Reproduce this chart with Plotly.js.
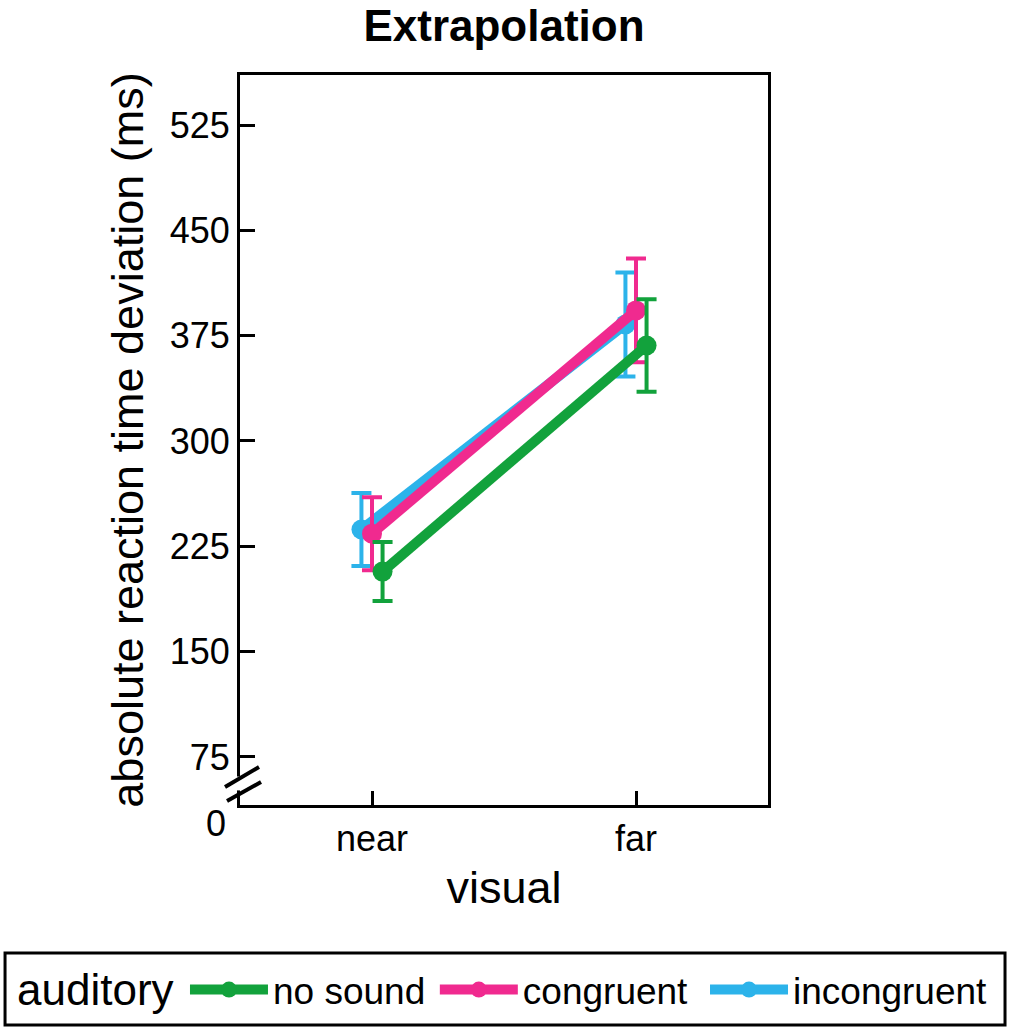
<!DOCTYPE html>
<html>
<head>
<meta charset="utf-8">
<script src="https://cdn.plot.ly/plotly-3.0.1.min.js"></script>
<style>
  html, body { margin: 0; padding: 0; background: #fff; }
  #chart { width: 1010px; height: 1030px; }
</style>
</head>
<body>
<div id="chart"></div>
<script>
var categories = ['near', 'far'];

var noSound = [207, 368];
var noSoundErr = [21, 33];
var congruent = [234, 393];
var congruentErr = [26, 37];
var incongruent = [237, 383];
var incongruentErr = [26, 37];

var yTicks = [75, 150, 225, 300, 375, 450, 525];

var font = 'Liberation Sans, Arial, sans-serif';
var dodge = 0.04;

function makeTrace(name, values, errs, color, shift, legend) {
    return {
        x: categories.map(function (c, i) { return i + 1 + shift * dodge; }),
        y: values,
        name: name,
        type: 'scatter',
        mode: 'lines+markers',
        legend: legend,
        line: { color: color, width: 10 },
        marker: { color: color, size: 20 },
        error_y: {
            type: 'data',
            array: errs,
            visible: true,
            color: color,
            thickness: 4,
            width: 10
        }
    };
}

// draw order: blue under pink under green
var data = [
    makeTrace('incongruent', incongruent, incongruentErr, '#2CB3EA', -1, 'legend3'),
    makeTrace('congruent', congruent, congruentErr, '#F02A8F', 0, 'legend2'),
    makeTrace('no sound', noSound, noSoundErr, '#12A23C', 1, 'legend')
];

// one legend per entry so the row can be wider than the plot area
function legendAt(x) {
    return {
        orientation: 'h',
        xref: 'paper', yref: 'paper',
        x: x, xanchor: 'left',
        y: -0.2534, yanchor: 'middle',
        bgcolor: 'rgba(0,0,0,0)',
        borderwidth: 0,
        font: { size: 37, family: font, color: '#000' },
        itemwidth: 78
    };
}

var layout = {
    width: 1010,
    height: 1030,
    margin: { l: 240, r: 242, t: 75, b: 225, autoexpand: false },
    paper_bgcolor: '#fff',
    plot_bgcolor: '#fff',
    font: { family: font, color: '#000', size: 36 },
    title: {
        text: '<b>Extrapolation</b>',
        font: { size: 44, family: font, color: '#000' },
        x: 0.5, xref: 'paper', xanchor: 'center',
        y: 0.975, yanchor: 'middle'
    },
    showlegend: true,
    legend: legendAt(-0.1042),
    legend2: legendAt(0.369),
    legend3: legendAt(0.8807),
    xaxis: {
        range: [0.5, 2.5],
        tickvals: [1, 2],
        ticktext: categories,
        showgrid: false,
        zeroline: false,
        showline: true,
        mirror: true,
        linecolor: '#000',
        linewidth: 3,
        ticks: 'inside',
        ticklen: 14,
        tickwidth: 3,
        tickcolor: '#000',
        tickfont: { size: 36, family: font, color: '#000' },
        title: { text: 'visual', font: { size: 45, family: font, color: '#000' }, standoff: 14 }
    },
    yaxis: {
        range: [40.8, 560.6],
        tickvals: yTicks,
        ticktext: yTicks.map(String),
        showgrid: false,
        zeroline: false,
        showline: true,
        mirror: true,
        linecolor: '#000',
        linewidth: 3,
        ticks: 'inside',
        ticklen: 15,
        tickwidth: 3,
        tickcolor: '#000',
        tickfont: { size: 36, family: font, color: '#000' },
        title: { text: 'absolute reaction time deviation (ms)', font: { size: 45, family: font, color: '#000' }, standoff: 12 }
    },
    annotations: [{
        text: '0',
        xref: 'paper', yref: 'paper',
        x: 0, y: -0.0247,
        xanchor: 'right', yanchor: 'middle',
        xshift: -12,
        showarrow: false,
        font: { size: 36, family: font, color: '#000' }
    }, {
        // legend heading
        text: 'auditory',
        xref: 'paper', yref: 'paper',
        x: -0.4261, y: -0.2534,
        xanchor: 'left', yanchor: 'middle',
        showarrow: false,
        font: { size: 44, family: font, color: '#000' }
    }],
    shapes: [
        // gap in the left axis line for the break mark
        { type: 'rect', xref: 'paper', yref: 'paper', x0: -0.012, x1: 0.012, y0: 0.02, y1: 0.039,
          fillcolor: '#fff', line: { width: 0 }, layer: 'above' },
        { type: 'line', xref: 'paper', yref: 'paper', x0: -0.0284, y0: 0.0247, x1: 0.036, y1: 0.052,
          line: { color: '#000', width: 4 }, layer: 'above' },
        { type: 'line', xref: 'paper', yref: 'paper', x0: -0.0246, y0: 0.0055, x1: 0.0398, y1: 0.0315,
          line: { color: '#000', width: 4 }, layer: 'above' },
        // legend frame
        { type: 'rect', xref: 'paper', yref: 'paper', x0: -0.445, x1: 1.4489, y0: -0.2027, y1: -0.3014,
          line: { color: '#000', width: 3 }, fillcolor: 'rgba(0,0,0,0)', layer: 'above' }
    ]
};

Plotly.newPlot('chart', data, layout, { displayModeBar: false, staticPlot: true });
</script>
</body>
</html>
